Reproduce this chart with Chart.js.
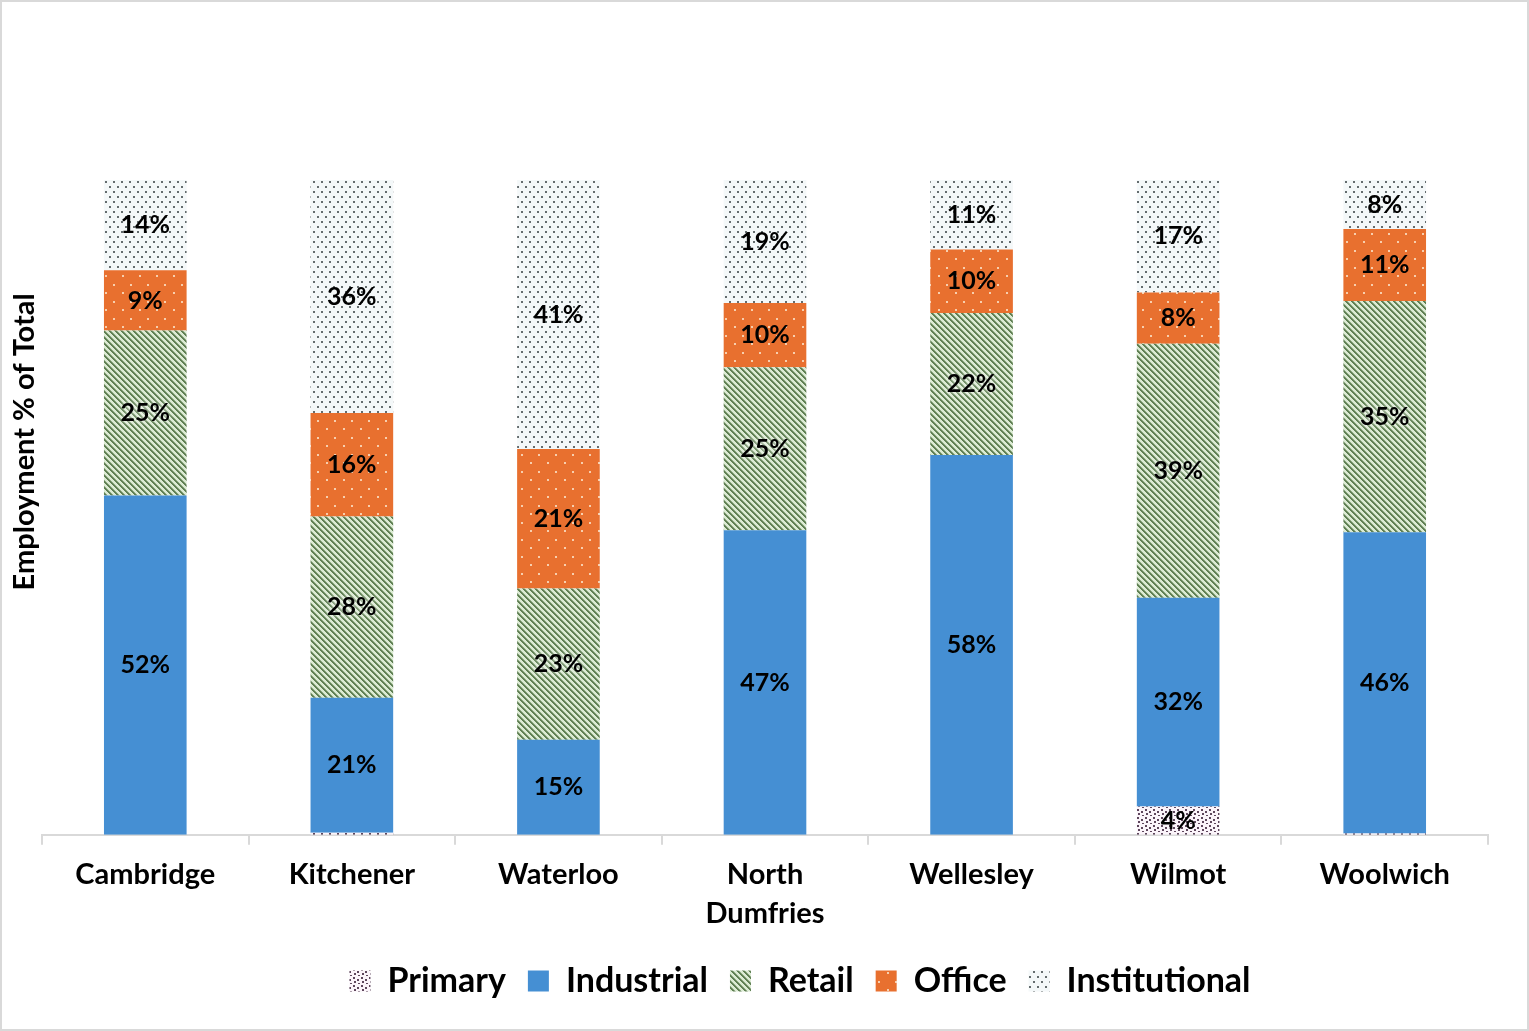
<!DOCTYPE html>
<html>
<head>
<meta charset="utf-8">
<script src="https://cdn.jsdelivr.net/npm/chart.js@4.4.1/dist/chart.umd.min.js"></script>
<style>
  html, body { margin: 0; padding: 0; background: #fff; }
  canvas { display: block; }
</style>
</head>
<body>
<canvas id="c" width="1529" height="1031"></canvas>
<script>
const categories = ['Cambridge', 'Kitchener', 'Waterloo', ['North', 'Dumfries'], 'Wellesley', 'Wilmot', 'Woolwich'];
const seriesNames = ['Primary', 'Industrial', 'Retail', 'Office', 'Institutional'];
const primary       = [0,    0.3,  0,    0,    0,    4.3,  0.2];
const industrial    = [51.8, 20.6, 14.5, 46.5, 58.0, 31.9, 46.0];
const retail        = [25.2, 27.7, 23.1, 24.9, 21.7, 38.8, 35.3];
const office        = [9.2,  15.8, 21.3, 9.8,  9.7,  7.8,  11.0];
const institutional = [13.8, 35.6, 41.1, 18.8, 10.6, 17.2, 7.5];
const yAxisTitle = 'Employment % of Total';

const FONT = 'Lato';
const W = 'bold';

function makePattern(w, h, bg, draw) {
  const c = document.createElement('canvas');
  c.width = w; c.height = h;
  const x = c.getContext('2d');
  x.fillStyle = bg; x.fillRect(0, 0, w, h);
  draw(x, w, h);
  return document.getElementById('c').getContext('2d').createPattern(c, 'repeat');
}

const primaryPat = makePattern(8, 8, '#fbf4fa', (x) => {
  x.fillStyle = '#5e465c';
  [[1,1],[5,3],[2,5],[6,7]].forEach(p => x.fillRect(p[0], p[1], 2, 2));
});
const industrialColor = '#458fd3';
const retailPat = makePattern(6, 6, '#dcebd4', (x, w, h) => {
  for (let yy = 0; yy < h; yy++) for (let xx = 0; xx < w; xx++) {
    const k = ((xx - yy) % 6 + 6) % 6;
    if (k < 2) { x.fillStyle = '#5f7f53'; x.fillRect(xx, yy, 1, 1); }
    else if (k === 2) { x.fillStyle = '#90ab84'; x.fillRect(xx, yy, 1, 1); }
  }
});
const officePat = makePattern(17, 17, '#e8702f', (x) => {
  x.fillStyle = '#f7cfae';
  x.fillRect(3, 3, 2, 2);
  x.fillRect(11, 12, 2, 2);
});
const instPat = makePattern(8, 10, '#f4f8f9', (x) => {
  x.fillStyle = '#646c6e';
  x.fillRect(1, 1, 2, 2);
  x.fillRect(5, 6, 2, 2);
});

const bgPlugin = {
  id: 'bg',
  beforeDraw(chart) {
    const ctx = chart.ctx;
    ctx.save();
    ctx.fillStyle = '#fff';
    ctx.fillRect(0, 0, chart.width, chart.height);
    ctx.strokeStyle = '#d9d9d9';
    ctx.lineWidth = 2;
    ctx.strokeRect(1, 1, chart.width - 2, chart.height - 2);
    ctx.restore();
  },
  afterLayout(chart) {
    const lg = chart.legend;
    if (lg) { lg.left += 35; lg.right += 35; lg.top -= 1; lg.bottom -= 1; }
  },
  afterDraw(chart) {
    const ctx = chart.ctx, a = chart.chartArea;
    ctx.save();
    ctx.translate(25, a.top + (a.bottom - a.top) * 0.4);
    ctx.rotate(-Math.PI / 2);
    ctx.font = W + ' 29px ' + FONT;
    ctx.fillStyle = '#000';
    ctx.textAlign = 'center';
    ctx.textBaseline = 'middle';
    ctx.fillText(yAxisTitle, 0, 0);
    ctx.restore();
  }
};

const labelPlugin = {
  id: 'barLabels',
  afterDatasetsDraw(chart) {
    const ctx = chart.ctx;
    ctx.save();
    ctx.font = W + ' 25px ' + FONT;
    ctx.textAlign = 'center';
    ctx.textBaseline = 'middle';
    chart.data.datasets.forEach((ds, di) => {
      const meta = chart.getDatasetMeta(di);
      meta.data.forEach((el, i) => {
        const v = ds.data[i];
        if (v < 1) return;
        const p = el.getCenterPoint();
        const txt = Math.round(v) + '%';
        if (di === 2) {
          ctx.shadowColor = 'rgba(255,255,255,0.95)';
          ctx.shadowBlur = 5;
        } else {
          ctx.shadowColor = 'transparent';
          ctx.shadowBlur = 0;
        }
        ctx.fillStyle = '#000';
        ctx.fillText(txt, p.x, p.y);
      });
    });
    ctx.restore();
  }
};

new Chart(document.getElementById('c'), {
  type: 'bar',
  data: {
    labels: categories,
    datasets: [
      { label: seriesNames[0], data: primary, backgroundColor: primaryPat },
      { label: seriesNames[1], data: industrial, backgroundColor: industrialColor },
      { label: seriesNames[2], data: retail, backgroundColor: retailPat },
      { label: seriesNames[3], data: office, backgroundColor: officePat },
      { label: seriesNames[4], data: institutional, backgroundColor: instPat }
    ]
  },
  options: {
    responsive: false,
    animation: false,
    devicePixelRatio: 1,
    datasets: { bar: { categoryPercentage: 1, barPercentage: 0.4, borderWidth: 0 } },
    layout: { padding: { left: 42, right: 41, top: 180, bottom: 22 } },
    scales: {
      x: {
        stacked: true,
        grid: { display: true, drawOnChartArea: false, offset: true, tickLength: 10, color: '#d9d9d9', lineWidth: 2 },
        border: { color: '#d9d9d9', width: 2 },
        ticks: { color: '#000', font: { family: FONT, size: 29, weight: W, lineHeight: 1.35 }, padding: 10, maxRotation: 0 }
      },
      y: {
        stacked: true,
        display: false,
        min: 0,
        max: 100
      }
    },
    plugins: {
      legend: {
        position: 'bottom',
        labels: {
          color: '#000',
          font: { family: FONT, size: 34, weight: W },
          boxWidth: 21,
          boxHeight: 21,
          padding: 22
        }
      },
      tooltip: { enabled: false }
    }
  },
  plugins: [bgPlugin, labelPlugin]
});
</script>
</body>
</html>
